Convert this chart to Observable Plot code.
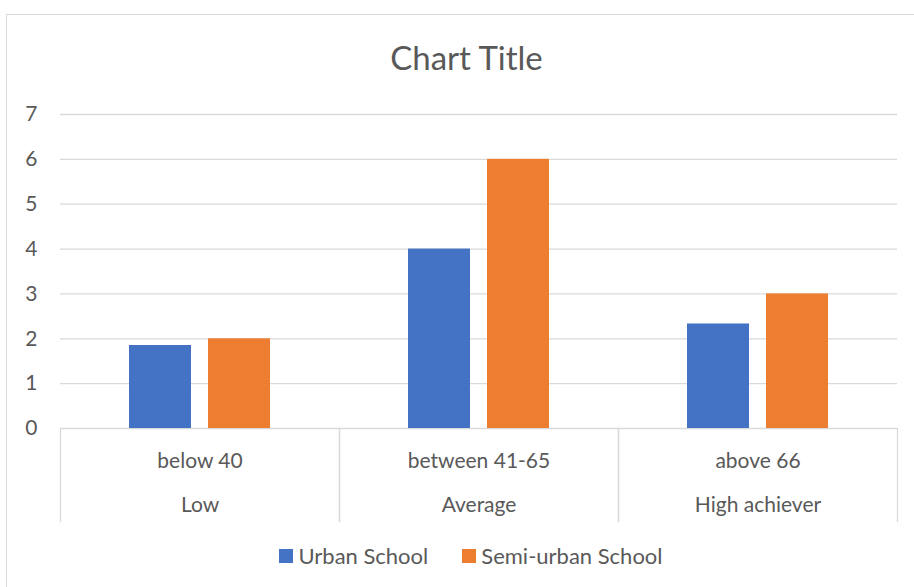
<!DOCTYPE html>
<html>
<head>
<meta charset="utf-8">
<script src="https://cdn.jsdelivr.net/npm/d3@7"></script>
<script src="https://cdn.jsdelivr.net/npm/@observablehq/plot@0.6"></script>
<style>
  html, body { margin: 0; padding: 0; background: #ffffff; }
  #wrap { position: relative; width: 914px; height: 587px; overflow: hidden; background: #fff; font-family: Lato, "Open Sans", sans-serif; color: #595959; }
  #border { position: absolute; left: 6px; top: 14px; width: 940px; height: 620px; border: 1px solid #d9d9d9; box-sizing: border-box; }
  #title { position: absolute; left: 0; top: 41px; width: 933px; text-align: center; font-size: 33px; line-height: 1; white-space: nowrap; }
  #chart { position: absolute; left: 0; top: 0; }
  #legend { position: absolute; left: 0; top: 543px; width: 942px; display: flex; justify-content: center; align-items: center; font-size: 22px; line-height: 26px; white-space: nowrap; }
  .item { display: flex; align-items: center; margin: 0 17px; }
  .sw { width: 14px; height: 14px; margin-right: 5px; }
</style>
</head>
<body>
<div id="wrap">
  <div id="border"></div>
  <div id="chart"></div>
  <div id="title">Chart Title</div>
  <div id="legend"></div>
</div>
<script>
const categories = ["below 40", "between 41-65", "above 66"];
const levels = ["Low", "Average", "High achiever"];
const series = ["Urban School", "Semi-urban School"];
const urban = [1.85, 4, 2.33];
const semiUrban = [2, 6, 3];
const yTicks = [0, 1, 2, 3, 4, 5, 6, 7];
const colors = ["#4472C4", "#ED7D31"];

const data = categories.flatMap((c, i) => [
  {category: c, series: series[0], value: urban[i]},
  {category: c, series: series[1], value: semiUrban[i]}
]);

const chart = Plot.plot({
  width: 914,
  height: 587,
  marginTop: 114,
  marginBottom: 159,
  marginLeft: 60,
  marginRight: 17,
  style: {fontFamily: "Lato, 'Open Sans', sans-serif", color: "#595959", background: "transparent", overflow: "visible"},
  fx: {domain: categories, padding: 0, label: null},
  x: {domain: series, paddingInner: 0.214, paddingOuter: 0.865, axis: null},
  y: {domain: [0, 7], label: null},
  color: {domain: series, range: colors},
  marks: [
    Plot.gridY(yTicks, {stroke: "#d9d9d9", strokeOpacity: 1, strokeWidth: 1.3}),
    Plot.frame({anchor: "left", insetTop: 314, insetBottom: -93, stroke: "#d9d9d9", strokeWidth: 1.3}),
    Plot.frame({anchor: "right", insetTop: 314, insetBottom: -93, stroke: "#d9d9d9", strokeWidth: 1.3}),
    Plot.barY(data, {fx: "category", x: "series", y: "value", fill: "series"}),
    Plot.axisY(yTicks, {tickSize: 0, tickPadding: 23, fontSize: 21, label: null}),
    Plot.axisFx({anchor: "bottom", tickSize: 0, tickPadding: 25, fontSize: 21, label: null}),
    Plot.axisFx({anchor: "bottom", tickSize: 0, tickPadding: 69, fontSize: 21, label: null, tickFormat: (d) => levels[categories.indexOf(d)]})
  ]
});
document.getElementById("chart").appendChild(chart);

const legend = document.getElementById("legend");
series.forEach((s, i) => {
  const item = document.createElement("div");
  item.className = "item";
  const sw = document.createElement("div");
  sw.className = "sw";
  sw.style.background = colors[i];
  const lab = document.createElement("span");
  lab.textContent = s;
  item.appendChild(sw);
  item.appendChild(lab);
  legend.appendChild(item);
});
</script>
</body>
</html>
